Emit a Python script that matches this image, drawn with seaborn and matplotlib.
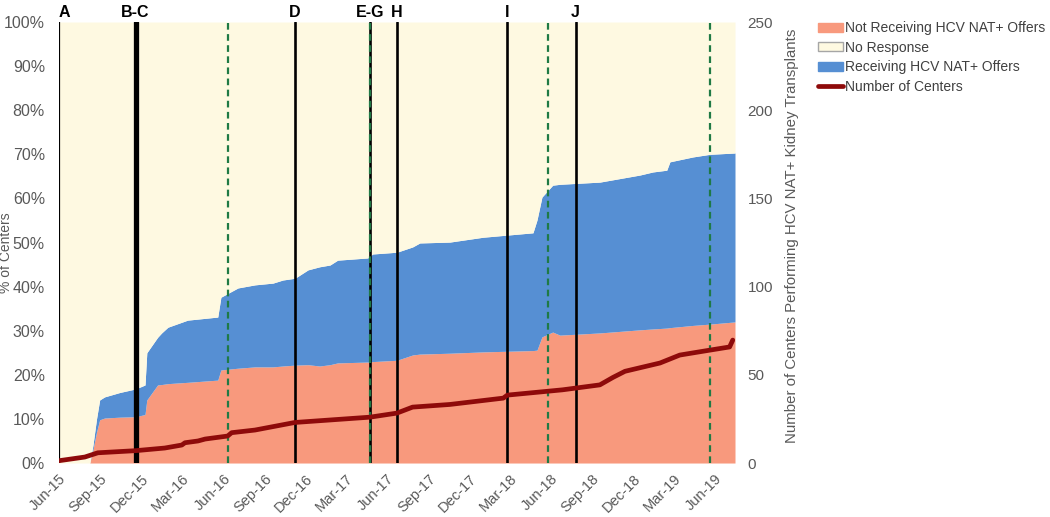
import matplotlib
matplotlib.use("Agg")
import matplotlib.dates as mdates
import matplotlib.pyplot as plt
import pandas as pd
import seaborn as sns
from matplotlib.lines import Line2D
from matplotlib.patches import Patch

# stacked area readings (% of centers)
AREA_DATES = [
    "2015-06-01", "2015-08-09", "2015-08-16", "2015-08-24", "2015-08-31",
    "2015-09-11", "2015-10-15", "2015-11-19", "2015-12-10", "2015-12-14",
    "2016-01-07", "2016-01-16", "2016-01-30", "2016-03-14", "2016-05-20",
    "2016-05-27", "2016-07-04", "2016-08-11", "2016-09-20", "2016-10-12",
    "2016-11-08", "2016-12-07", "2017-01-02", "2017-01-25", "2017-02-11",
    "2017-04-19", "2017-04-30", "2017-06-23", "2017-07-28", "2017-08-13",
    "2017-10-19", "2018-01-01", "2018-04-22", "2018-05-01", "2018-05-12",
    "2018-06-05", "2018-06-21", "2018-09-18", "2018-12-16", "2019-01-14",
    "2019-02-14", "2019-02-21", "2019-04-13", "2019-05-21", "2019-07-16",
]
NOT_RECEIVING_PCT = [
    0, 0, 3, 7, 9.8, 10.2, 10.4, 10.5, 11.0, 14.3,
    17.7, 17.8, 18.0, 18.3, 18.8, 21.1, 21.5, 21.8, 21.8, 22.0,
    22.2, 22.3, 22.0, 22.3, 22.7, 22.9, 23.0, 23.3, 24.5, 24.7,
    24.9, 25.2, 25.5, 25.6, 28.6, 29.7, 29.0, 29.5, 30.2, 30.4,
    30.6, 30.7, 31.2, 31.5, 32.0,
]
RECEIVING_PCT = [
    0, 0, 1, 3, 4.5, 4.8, 5.6, 6.3, 6.7, 10.7,
    10.8, 11.7, 12.8, 14.1, 14.3, 16.5, 18.2, 18.6, 19.0, 19.5,
    19.7, 21.5, 22.5, 22.6, 23.3, 23.6, 24.4, 24.5, 24.5, 25.2,
    25.2, 26.0, 26.7, 29.5, 31.7, 33.3, 34.2, 34.2, 35.1, 35.6,
    35.8, 37.6, 38.2, 38.5, 38.3,
]

# number of centers performing HCV NAT+ kidney transplants
COUNT_DATES = [
    "2015-06-01", "2015-07-29", "2015-08-27", "2015-11-19", "2016-01-23",
    "2016-03-01", "2016-03-08", "2016-04-06", "2016-04-22", "2016-06-11",
    "2016-06-20", "2016-08-11", "2016-11-08", "2017-04-24", "2017-06-23",
    "2017-07-28", "2017-10-19", "2018-02-15", "2018-02-24", "2018-06-27",
    "2018-09-18", "2018-10-17", "2018-11-13", "2019-01-30", "2019-03-15",
    "2019-05-21", "2019-07-04", "2019-07-11",
]
CENTER_COUNTS = [
    1.3, 3.4, 5.8, 7.0, 8.5, 10.2, 11.5, 12.5, 13.6, 15.3,
    17.2, 18.7, 23.0, 26.0, 28.3, 31.7, 33.2, 36.8, 38.5, 41.5,
    44.3, 48.5, 52.0, 56.7, 61.2, 64.0, 65.8, 69.7,
]

EVENT_LABELS = ["A", "B-C", "D", "E-G", "H", "I", "J"]
EVENT_DATES = ["2015-06-01", "2015-11-19", "2016-11-08", "2017-04-24",
               "2017-06-23", "2018-02-24", "2018-07-26"]
DASHED_DATES = ["2016-06-11", "2017-04-25", "2018-05-25", "2019-05-21"]

X_START = "2015-06-01"
X_END = "2019-07-16"

SALMON = "#F8997D"
BLUE = "#568FD3"
CREAM = "#FEF9E1"
DARK_RED = "#8E0A0A"
GREEN = "#1F7A45"
TEXT_GRAY = "#595959"


def configure_style() -> None:
    sns.set_theme(style="white")
    plt.rcParams.update(
        {
            "font.family": ["Liberation Sans", "DejaVu Sans"],
            "xtick.labelsize": 10.5,
            "ytick.labelsize": 11.5,
            "axes.labelsize": 10.5,
            "xtick.color": TEXT_GRAY,
            "ytick.color": TEXT_GRAY,
            "axes.labelcolor": TEXT_GRAY,
        }
    )


def main() -> None:
    configure_style()

    area_df = pd.DataFrame(
        {
            "date": pd.to_datetime(AREA_DATES),
            "not_receiving": NOT_RECEIVING_PCT,
            "receiving": RECEIVING_PCT,
        }
    )
    area_df["no_response"] = 100 - area_df["not_receiving"] - area_df["receiving"]

    count_df = pd.DataFrame({"date": pd.to_datetime(COUNT_DATES), "centers": CENTER_COUNTS})

    fig = plt.figure(figsize=(10.5, 5.17), dpi=100)
    ax = fig.add_axes([0.056, 0.1044, 0.644, 0.853])

    ax.stackplot(
        area_df["date"],
        area_df["not_receiving"],
        area_df["receiving"],
        area_df["no_response"],
        colors=[SALMON, BLUE, CREAM],
        linewidth=0,
    )

    widths = {"A": 1.6, "B-C": 3.8}
    for label, date in zip(EVENT_LABELS, EVENT_DATES):
        d = pd.Timestamp(date)
        ax.axvline(d, color="black", linewidth=widths.get(label, 1.9), zorder=3)
        ax.text(
            d, 1.005, label, transform=ax.get_xaxis_transform(),
            ha="left" if label == "A" else "center", va="bottom",
            fontsize=11.5, fontweight="bold", color="black",
        )
    for date in DASHED_DATES:
        ax.axvline(pd.Timestamp(date), color=GREEN, linewidth=1.6,
                   linestyle=(0, (3, 2)), zorder=4)

    ax.set_xlim(pd.Timestamp(X_START), pd.Timestamp(X_END))
    ax.set_ylim(0, 100)
    ax.set_yticks(range(0, 101, 10))
    ax.set_yticklabels([f"{v}%" for v in range(0, 101, 10)])
    ax.set_ylabel("% of Centers", fontsize=10)
    ax.yaxis.set_label_coords(-0.067, 0.478)
    ax.xaxis.set_major_locator(mdates.MonthLocator(bymonth=[3, 6, 9, 12]))
    ax.xaxis.set_major_formatter(mdates.DateFormatter("%b-%y"))
    for lbl in ax.get_xticklabels():
        lbl.set_rotation(45)
        lbl.set_ha("right")
        lbl.set_rotation_mode("anchor")
    ax.tick_params(axis="x", length=0, pad=6)
    ax.tick_params(axis="y", length=0, pad=10)
    for spine in ax.spines.values():
        spine.set_visible(False)

    ax2 = ax.twinx()
    sns.lineplot(data=count_df, x="date", y="centers", color=DARK_RED,
                 linewidth=3.4, ax=ax2, zorder=5)
    ax2.set_ylim(0, 250)
    ax2.set_yticks(range(0, 251, 50))
    ax2.set_ylabel("Number of Centers Performing HCV NAT+ Kidney Transplants",
                   fontsize=10.8)
    ax2.yaxis.set_label_coords(1.074, 0.515)
    ax2.set_xlim(pd.Timestamp(X_START), pd.Timestamp(X_END))
    ax2.tick_params(axis="y", length=0, pad=9, labelsize=11)
    ax2.set_xlabel("")
    for spine in ax2.spines.values():
        spine.set_visible(False)

    handles = [
        Patch(facecolor=SALMON, edgecolor=SALMON),
        Patch(facecolor=CREAM, edgecolor="#A6A6A6"),
        Patch(facecolor=BLUE, edgecolor=BLUE),
        Line2D([0], [0], color=DARK_RED, linewidth=3.4),
    ]
    labels = ["Not Receiving HCV NAT+ Offers", "No Response",
              "Receiving HCV NAT+ Offers", "Number of Centers"]
    fig.legend(
        handles, labels, loc="upper left", bbox_to_anchor=(0.774, 0.97),
        frameon=False, fontsize=10, handlelength=1.8, handleheight=0.6,
        handletextpad=0.15, labelspacing=0.4, borderaxespad=0,
        labelcolor="#404040",
    )

    fig.savefig("out.png", dpi=100)
    plt.close(fig)


if __name__ == "__main__":
    main()
